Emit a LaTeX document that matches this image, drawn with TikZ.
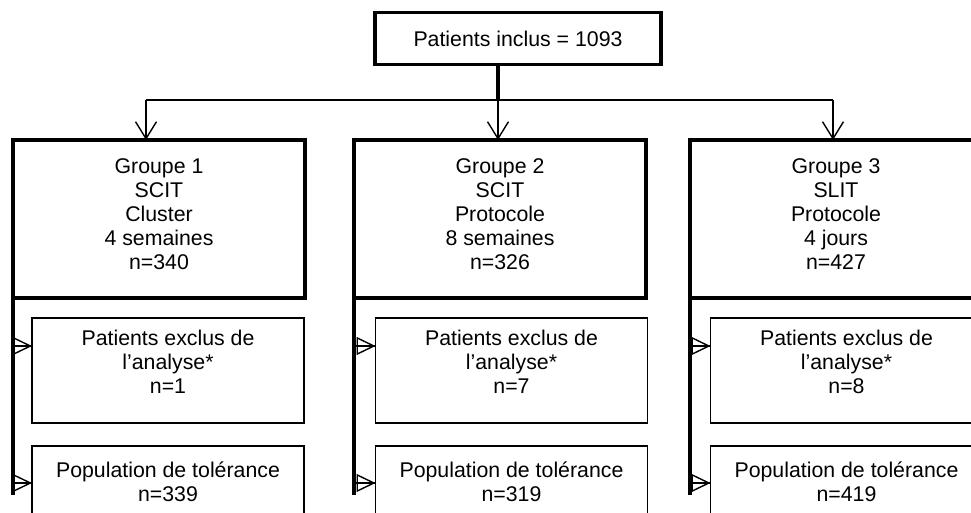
\documentclass[tikz,border=0pt]{standalone}
\usepackage{fontspec}
\setmainfont{Liberation Sans}
\usetikzlibrary{arrows.meta}

\begin{document}
\begin{tikzpicture}[x=1pt, y=-1pt,
  box/.style={draw, outer sep=0pt, inner sep=0pt, align=center,
    font=\fontsize{21.3}{24}\selectfont},
  groupbox/.style={box, line width=3.2pt, minimum width=292pt, minimum height=158pt, text depth=10.5pt},
  subbox/.style={box, line width=1.6pt, minimum width=272pt, minimum height=105pt, text depth=18pt},
  thin/.style={line width=1.4pt},
  down/.style={thin, -{Straight Barb[length=17pt,width=21pt,line width=1.4pt]}},
  side/.style={thin, -{Triangle[open,length=19pt,width=18pt,line width=1.4pt]}}]
  \useasboundingbox (0,0) rectangle (971,513);
  \clip (0,0) rectangle (971,513);
  % inclusion
  \node[box, line width=3.2pt, minimum width=286pt, minimum height=52pt] (incl) at (518,38.5) {Patients inclus = 1093};
  % groups
  \node[groupbox] (g1) at (159,219) {Groupe 1\\SCIT\\Cluster\\4 semaines\\n=340};
  \node[groupbox] (g2) at (500,219) {Groupe 2\\SCIT\\Protocole\\8 semaines\\n=326};
  \node[groupbox] (g3) at (836,219) {Groupe 3\\SLIT\\Protocole\\4 jours\\n=427};
  % excluded
  \node[subbox] (e1) at (168,370.5) {Patients exclus de\\l’analyse*\\n=1};
  \node[subbox] (e2) at (511.5,370.5) {Patients exclus de\\l’analyse*\\n=7};
  \node[subbox] (e3) at (846.5,370.5) {Patients exclus de\\l’analyse*\\n=8};
  % tolerance
  \node[subbox, minimum height=89.5pt] (t1) at (168,490.75) {Population de tolérance\\n=339};
  \node[subbox, minimum height=89.5pt] (t2) at (511.5,490.75) {Population de tolérance\\n=319};
  \node[subbox, minimum height=89.5pt] (t3) at (846.5,490.75) {Population de tolérance\\n=419};
  % split into the three groups
  \foreach \g/\x in {1/146,2/498,3/833} {
    \coordinate (h\g) at (\x,100);
    \draw[down] (h\g) -- (h\g |- g\g.north);
  }
  \draw[line width=3.2pt] (incl.south -| h2) -- (h2);
  \draw[thin] (h1) -- (h3);
  % side lines
  \foreach \g in {1,2,3} {
    \draw[line width=4pt] (g\g.south west) -- ++(0,197);
    \coordinate (ea\g) at ([yshift=-28pt]e\g.north west);
    \coordinate (ta\g) at ([yshift=-37pt]t\g.north west);
    \draw[thin] (ea\g -| g\g.west) -- (ea\g);
    \draw[side] (ea\g -| g\g.west) -- (ea\g);
    \draw[thin] (ta\g -| g\g.west) -- (ta\g);
    \draw[side] (ta\g -| g\g.west) -- (ta\g);
  }
\end{tikzpicture}
\end{document}
